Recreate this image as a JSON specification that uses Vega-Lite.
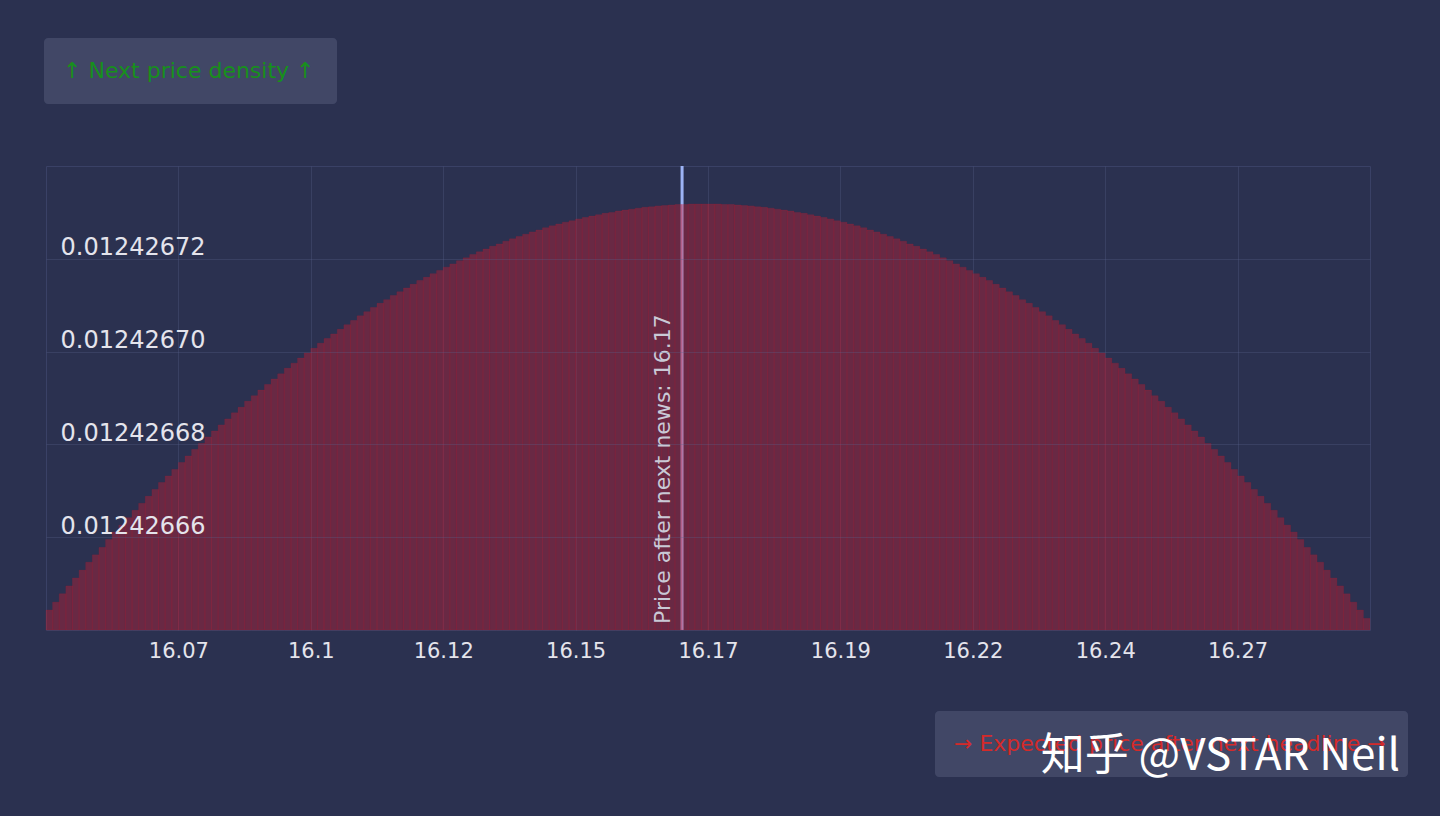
{
"$schema": "https://vega.github.io/schema/vega-lite/v6.json",
"width": 1324,
"height": 464,
"autosize": {"type": "none"},
"padding": {"left": 46, "top": 166, "right": 70, "bottom": 186},
"background": "#2b3150",
"config": {"view": {"stroke": "#3a4166", "strokeWidth": 1}, "font": "DejaVu Sans"},
"title": {"text": "知乎 @VSTAR Neil", "orient": "bottom", "anchor": "end", "frame": "group", "font": "Noto Sans CJK SC", "fontSize": 44, "fontWeight": "normal", "color": "#ffffff", "dx": 30, "offset": 0, "dy": -42},
"datasets": {
"news": [{"price": 16.1652, "label": "Price after next news: 16.17"}],
"bins": [
{"price":16.048013,"density":0.0124266443},
{"price":16.049239,"density":0.0124266460},
{"price":16.050465,"density":0.0124266478},
{"price":16.051691,"density":0.0124266495},
{"price":16.052917,"density":0.0124266512},
{"price":16.054143,"density":0.0124266529},
{"price":16.055369,"density":0.0124266546},
{"price":16.056595,"density":0.0124266562},
{"price":16.057821,"density":0.0124266578},
{"price":16.059047,"density":0.0124266595},
{"price":16.060273,"density":0.0124266611},
{"price":16.061499,"density":0.0124266626},
{"price":16.062725,"density":0.0124266642},
{"price":16.063951,"density":0.0124266658},
{"price":16.065177,"density":0.0124266673},
{"price":16.066403,"density":0.0124266688},
{"price":16.067629,"density":0.0124266703},
{"price":16.068855,"density":0.0124266718},
{"price":16.070081,"density":0.0124266732},
{"price":16.071307,"density":0.0124266746},
{"price":16.072533,"density":0.0124266761},
{"price":16.073759,"density":0.0124266775},
{"price":16.074985,"density":0.0124266789},
{"price":16.076211,"density":0.0124266802},
{"price":16.077437,"density":0.0124266816},
{"price":16.078663,"density":0.0124266829},
{"price":16.079889,"density":0.0124266842},
{"price":16.081115,"density":0.0124266855},
{"price":16.082341,"density":0.0124266868},
{"price":16.083567,"density":0.0124266880},
{"price":16.084793,"density":0.0124266893},
{"price":16.086019,"density":0.0124266905},
{"price":16.087245,"density":0.0124266917},
{"price":16.088471,"density":0.0124266929},
{"price":16.089697,"density":0.0124266941},
{"price":16.090923,"density":0.0124266952},
{"price":16.092149,"density":0.0124266964},
{"price":16.093375,"density":0.0124266975},
{"price":16.094601,"density":0.0124266986},
{"price":16.095827,"density":0.0124266997},
{"price":16.097053,"density":0.0124267007},
{"price":16.098279,"density":0.0124267018},
{"price":16.099505,"density":0.0124267028},
{"price":16.100731,"density":0.0124267038},
{"price":16.101957,"density":0.0124267048},
{"price":16.103183,"density":0.0124267058},
{"price":16.104409,"density":0.0124267067},
{"price":16.105635,"density":0.0124267077},
{"price":16.106861,"density":0.0124267086},
{"price":16.108087,"density":0.0124267095},
{"price":16.109313,"density":0.0124267104},
{"price":16.110539,"density":0.0124267112},
{"price":16.111765,"density":0.0124267121},
{"price":16.112991,"density":0.0124267129},
{"price":16.114217,"density":0.0124267137},
{"price":16.115443,"density":0.0124267145},
{"price":16.116669,"density":0.0124267153},
{"price":16.117895,"density":0.0124267160},
{"price":16.119121,"density":0.0124267168},
{"price":16.120347,"density":0.0124267175},
{"price":16.121573,"density":0.0124267182},
{"price":16.122799,"density":0.0124267189},
{"price":16.124025,"density":0.0124267196},
{"price":16.125251,"density":0.0124267202},
{"price":16.126477,"density":0.0124267209},
{"price":16.127703,"density":0.0124267215},
{"price":16.128929,"density":0.0124267221},
{"price":16.130155,"density":0.0124267227},
{"price":16.131381,"density":0.0124267232},
{"price":16.132607,"density":0.0124267238},
{"price":16.133833,"density":0.0124267243},
{"price":16.135059,"density":0.0124267248},
{"price":16.136285,"density":0.0124267253},
{"price":16.137511,"density":0.0124267258},
{"price":16.138737,"density":0.0124267262},
{"price":16.139963,"density":0.0124267267},
{"price":16.141189,"density":0.0124267271},
{"price":16.142415,"density":0.0124267275},
{"price":16.143641,"density":0.0124267279},
{"price":16.144867,"density":0.0124267282},
{"price":16.146093,"density":0.0124267286},
{"price":16.147319,"density":0.0124267289},
{"price":16.148545,"density":0.0124267292},
{"price":16.149771,"density":0.0124267295},
{"price":16.150997,"density":0.0124267298},
{"price":16.152223,"density":0.0124267300},
{"price":16.153449,"density":0.0124267303},
{"price":16.154675,"density":0.0124267305},
{"price":16.155901,"density":0.0124267307},
{"price":16.157127,"density":0.0124267309},
{"price":16.158353,"density":0.0124267311},
{"price":16.159579,"density":0.0124267312},
{"price":16.160805,"density":0.0124267314},
{"price":16.162031,"density":0.0124267315},
{"price":16.163257,"density":0.0124267316},
{"price":16.164483,"density":0.0124267317},
{"price":16.165709,"density":0.0124267317},
{"price":16.166935,"density":0.0124267318},
{"price":16.168161,"density":0.0124267318},
{"price":16.169387,"density":0.0124267318},
{"price":16.170613,"density":0.0124267318},
{"price":16.171839,"density":0.0124267318},
{"price":16.173065,"density":0.0124267317},
{"price":16.174291,"density":0.0124267317},
{"price":16.175517,"density":0.0124267316},
{"price":16.176743,"density":0.0124267315},
{"price":16.177969,"density":0.0124267314},
{"price":16.179195,"density":0.0124267312},
{"price":16.180421,"density":0.0124267311},
{"price":16.181647,"density":0.0124267309},
{"price":16.182873,"density":0.0124267307},
{"price":16.184099,"density":0.0124267305},
{"price":16.185325,"density":0.0124267303},
{"price":16.186551,"density":0.0124267300},
{"price":16.187777,"density":0.0124267298},
{"price":16.189003,"density":0.0124267295},
{"price":16.190229,"density":0.0124267292},
{"price":16.191455,"density":0.0124267289},
{"price":16.192681,"density":0.0124267286},
{"price":16.193907,"density":0.0124267282},
{"price":16.195133,"density":0.0124267279},
{"price":16.196359,"density":0.0124267275},
{"price":16.197585,"density":0.0124267271},
{"price":16.198811,"density":0.0124267267},
{"price":16.200037,"density":0.0124267262},
{"price":16.201263,"density":0.0124267258},
{"price":16.202489,"density":0.0124267253},
{"price":16.203715,"density":0.0124267248},
{"price":16.204941,"density":0.0124267243},
{"price":16.206167,"density":0.0124267238},
{"price":16.207393,"density":0.0124267232},
{"price":16.208619,"density":0.0124267227},
{"price":16.209845,"density":0.0124267221},
{"price":16.211071,"density":0.0124267215},
{"price":16.212297,"density":0.0124267209},
{"price":16.213523,"density":0.0124267202},
{"price":16.214749,"density":0.0124267196},
{"price":16.215975,"density":0.0124267189},
{"price":16.217201,"density":0.0124267182},
{"price":16.218427,"density":0.0124267175},
{"price":16.219653,"density":0.0124267168},
{"price":16.220879,"density":0.0124267160},
{"price":16.222105,"density":0.0124267153},
{"price":16.223331,"density":0.0124267145},
{"price":16.224557,"density":0.0124267137},
{"price":16.225783,"density":0.0124267129},
{"price":16.227009,"density":0.0124267121},
{"price":16.228235,"density":0.0124267112},
{"price":16.229461,"density":0.0124267104},
{"price":16.230687,"density":0.0124267095},
{"price":16.231913,"density":0.0124267086},
{"price":16.233139,"density":0.0124267077},
{"price":16.234365,"density":0.0124267067},
{"price":16.235591,"density":0.0124267058},
{"price":16.236817,"density":0.0124267048},
{"price":16.238043,"density":0.0124267038},
{"price":16.239269,"density":0.0124267028},
{"price":16.240495,"density":0.0124267018},
{"price":16.241721,"density":0.0124267007},
{"price":16.242947,"density":0.0124266997},
{"price":16.244173,"density":0.0124266986},
{"price":16.245399,"density":0.0124266975},
{"price":16.246625,"density":0.0124266964},
{"price":16.247851,"density":0.0124266952},
{"price":16.249077,"density":0.0124266941},
{"price":16.250303,"density":0.0124266929},
{"price":16.251529,"density":0.0124266917},
{"price":16.252755,"density":0.0124266905},
{"price":16.253981,"density":0.0124266893},
{"price":16.255207,"density":0.0124266880},
{"price":16.256433,"density":0.0124266868},
{"price":16.257659,"density":0.0124266855},
{"price":16.258885,"density":0.0124266842},
{"price":16.260111,"density":0.0124266829},
{"price":16.261337,"density":0.0124266816},
{"price":16.262563,"density":0.0124266802},
{"price":16.263789,"density":0.0124266789},
{"price":16.265015,"density":0.0124266775},
{"price":16.266241,"density":0.0124266761},
{"price":16.267467,"density":0.0124266746},
{"price":16.268693,"density":0.0124266732},
{"price":16.269919,"density":0.0124266718},
{"price":16.271145,"density":0.0124266703},
{"price":16.272371,"density":0.0124266688},
{"price":16.273597,"density":0.0124266673},
{"price":16.274823,"density":0.0124266658},
{"price":16.276049,"density":0.0124266642},
{"price":16.277275,"density":0.0124266626},
{"price":16.278501,"density":0.0124266611},
{"price":16.279727,"density":0.0124266595},
{"price":16.280953,"density":0.0124266578},
{"price":16.282179,"density":0.0124266562},
{"price":16.283405,"density":0.0124266546},
{"price":16.284631,"density":0.0124266529},
{"price":16.285857,"density":0.0124266512},
{"price":16.287083,"density":0.0124266495},
{"price":16.288309,"density":0.0124266478},
{"price":16.289535,"density":0.0124266460},
{"price":16.290761,"density":0.0124266443},
{"price":16.291987,"density":0.0124266425}
]
},
"layer": [
{
"data": {"name": "news"},
"mark": {"type": "rule", "strokeWidth": 3},
"encoding": {
"x": {"field": "price", "type": "quantitative", "scale": {"domain": [16.0474, 16.2926], "nice": false, "zero": false, "padding": 0},
"axis": {"values": [16.07192, 16.09644, 16.12096, 16.14548, 16.17, 16.19452, 16.21904, 16.24356, 16.26808], "format": ".2~f", "title": null, "domain": false, "ticks": false, "tickSize": 0, "labelPadding": 10, "labelFontSize": 21, "labelColor": "#e4e4ec", "labelFont": "DejaVu Sans", "grid": true, "gridColor": "#5a6290", "gridOpacity": 0.3, "labelFlush": false}},
"color": {"datum": "→ Expected price after next headline →", "scale": {"range": ["#9db3f5"]},
"legend": {"orient": "none", "legendX": 889, "legendY": 545, "title": null, "symbolSize": 0, "symbolOpacity": 0, "symbolStrokeWidth": 0, "labelFont": "DejaVu Sans", "labelFontSize": 22, "labelColor": "#d42a2a", "labelLimit": 800, "labelOffset": -25, "fillColor": "#414766", "cornerRadius": 4, "padding": 22}}
}
},
{
"data": {"name": "bins"},
"mark": {"type": "bar", "width": 6.62, "fillOpacity": 0.4, "stroke": "#c81e32", "strokeOpacity": 0.15, "strokeWidth": 1},
"encoding": {
"x": {"field": "price", "type": "quantitative", "scale": {"domain": [16.0474, 16.2926], "nice": false, "zero": false, "padding": 0},
"axis": {"values": [16.07192, 16.09644, 16.12096, 16.14548, 16.17, 16.19452, 16.21904, 16.24356, 16.26808], "format": ".2~f", "title": null, "domain": false, "ticks": false, "tickSize": 0, "labelPadding": 10, "labelFontSize": 21, "labelColor": "#e4e4ec", "labelFont": "DejaVu Sans", "grid": true, "gridColor": "#5a6290", "gridOpacity": 0.3, "labelFlush": false}},
"y": {"field": "density", "type": "quantitative", "scale": {"domain": [0.01242664, 0.01242674], "nice": false, "zero": false},
"axis": {"values": [0.01242666, 0.01242668, 0.0124267, 0.01242672], "format": ".8f", "title": null, "domain": false, "ticks": false, "tickSize": 0, "labelAlign": "left", "labelPadding": -14, "labelBaseline": "alphabetic", "labelOffset": -4, "labelFontSize": 24, "labelColor": "#e4e4ec", "labelFont": "DejaVu Sans", "grid": true, "gridColor": "#5a6290", "gridOpacity": 0.3, "zindex": 1}},
"y2": {"datum": 0.01242664},
"color": {"datum": "↑ Next price density ↑", "scale": {"range": ["#c81e32"]},
"legend": {"orient": "none", "legendX": -2, "legendY": -128, "title": null, "symbolSize": 0, "symbolOpacity": 0, "symbolStrokeWidth": 0, "labelFont": "DejaVu Sans", "labelFontSize": 22, "labelColor": "#17901b", "labelLimit": 800, "labelOffset": -25, "fillColor": "#414766", "cornerRadius": 4, "padding": 22}}
}
},
{
"data": {"name": "news"},
"mark": {"type": "text", "angle": 270, "align": "left", "baseline": "alphabetic", "dx": 6, "dy": -12, "fontSize": 22, "color": "#c9c9d6", "font": "DejaVu Sans"},
"encoding": {
"x": {"field": "price", "type": "quantitative", "scale": {"domain": [16.0474, 16.2926], "nice": false, "zero": false, "padding": 0}},
"y": {"datum": 0.01242664, "scale": {"domain": [0.01242664, 0.01242674], "nice": false, "zero": false}},
"text": {"field": "label"}
}
}
],
"resolve": {"scale": {"color": "independent"}, "legend": {"color": "independent"}}
}
